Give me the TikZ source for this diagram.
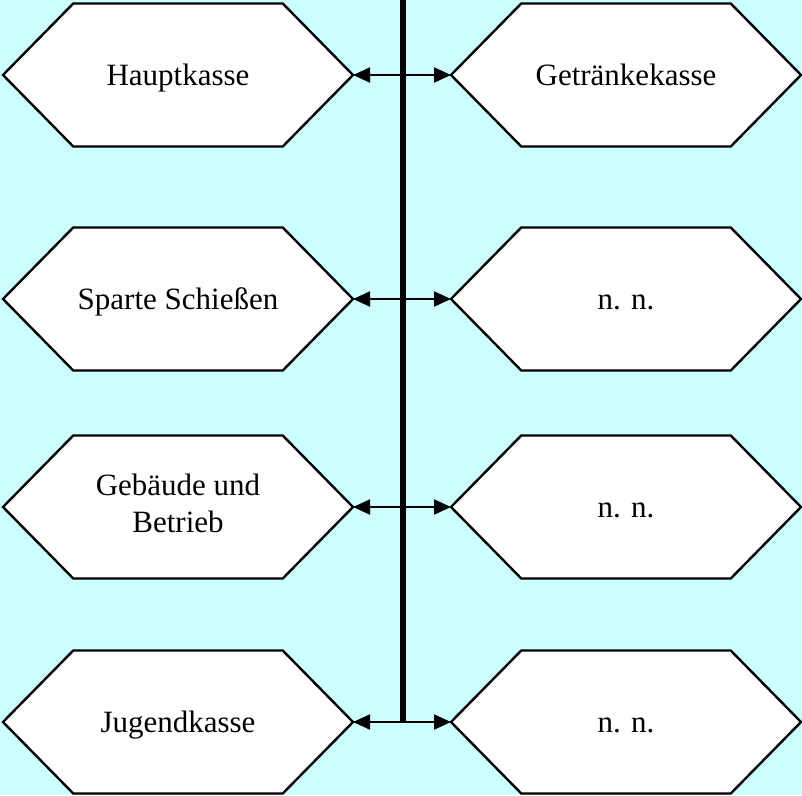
\documentclass[tikz,border=0pt]{standalone}
\usepackage{fontspec}
\setmainfont{Liberation Serif}
\usetikzlibrary{shapes.symbols,arrows.meta}
\definecolor{bgcyan}{HTML}{CCFFFF}
\newcommand\hexstrut{\rule[-6.7pt]{0pt}{34.3pt}}
\tikzset{
  hexbox/.style={shape=signal, signal to=west and east, signal pointer angle=91,
    draw=black, line width=2.4pt, fill=white, minimum width=350pt, minimum height=143pt,
    inner sep=0pt, outer sep=0pt, align=center,
    execute at begin node=\hexstrut, execute at end node=\hexstrut,
    font=\fontsize{31pt}{37pt}\selectfont},
  busline/.style={line width=5.5pt, draw=black},
  link/.style={line width=2pt, draw=black, {Triangle[length=17pt,width=15pt]}-{Triangle[length=17pt,width=15pt]}},
}
\begin{document}
\begin{tikzpicture}[x=1pt,y=-1pt]
  \fill[bgcyan] (0,0) rectangle (802,795);
  \useasboundingbox (0,0) rectangle (802,795);
  % boxes
  \node[hexbox] (l1) at (178,75)  {Hauptkasse};
  \node[hexbox] (r1) at (626,75)  {Getränkekasse};
  \node[hexbox] (l2) at (178,299) {Sparte Schießen};
  \node[hexbox] (r2) at (626,299) {n. n.};
  \node[hexbox] (l3) at (178,507) {Gebäude und\\Betrieb};
  \node[hexbox] (r3) at (626,507) {n. n.};
  \node[hexbox] (l4) at (178,722) {Jugendkasse};
  \node[hexbox] (r4) at (626,722) {n. n.};
  % bus
  \coordinate (top) at (403,0);
  \coordinate (j4) at (403,722);
  \draw[busline] (top) -- (j4);
  % links
  \draw[link] (l1.east) -- (r1.west);
  \draw[link] (l2.east) -- (r2.west);
  \draw[link] (l3.east) -- (r3.west);
  \draw[link] (l4.east) -- (r4.west);
\end{tikzpicture}
\end{document}
